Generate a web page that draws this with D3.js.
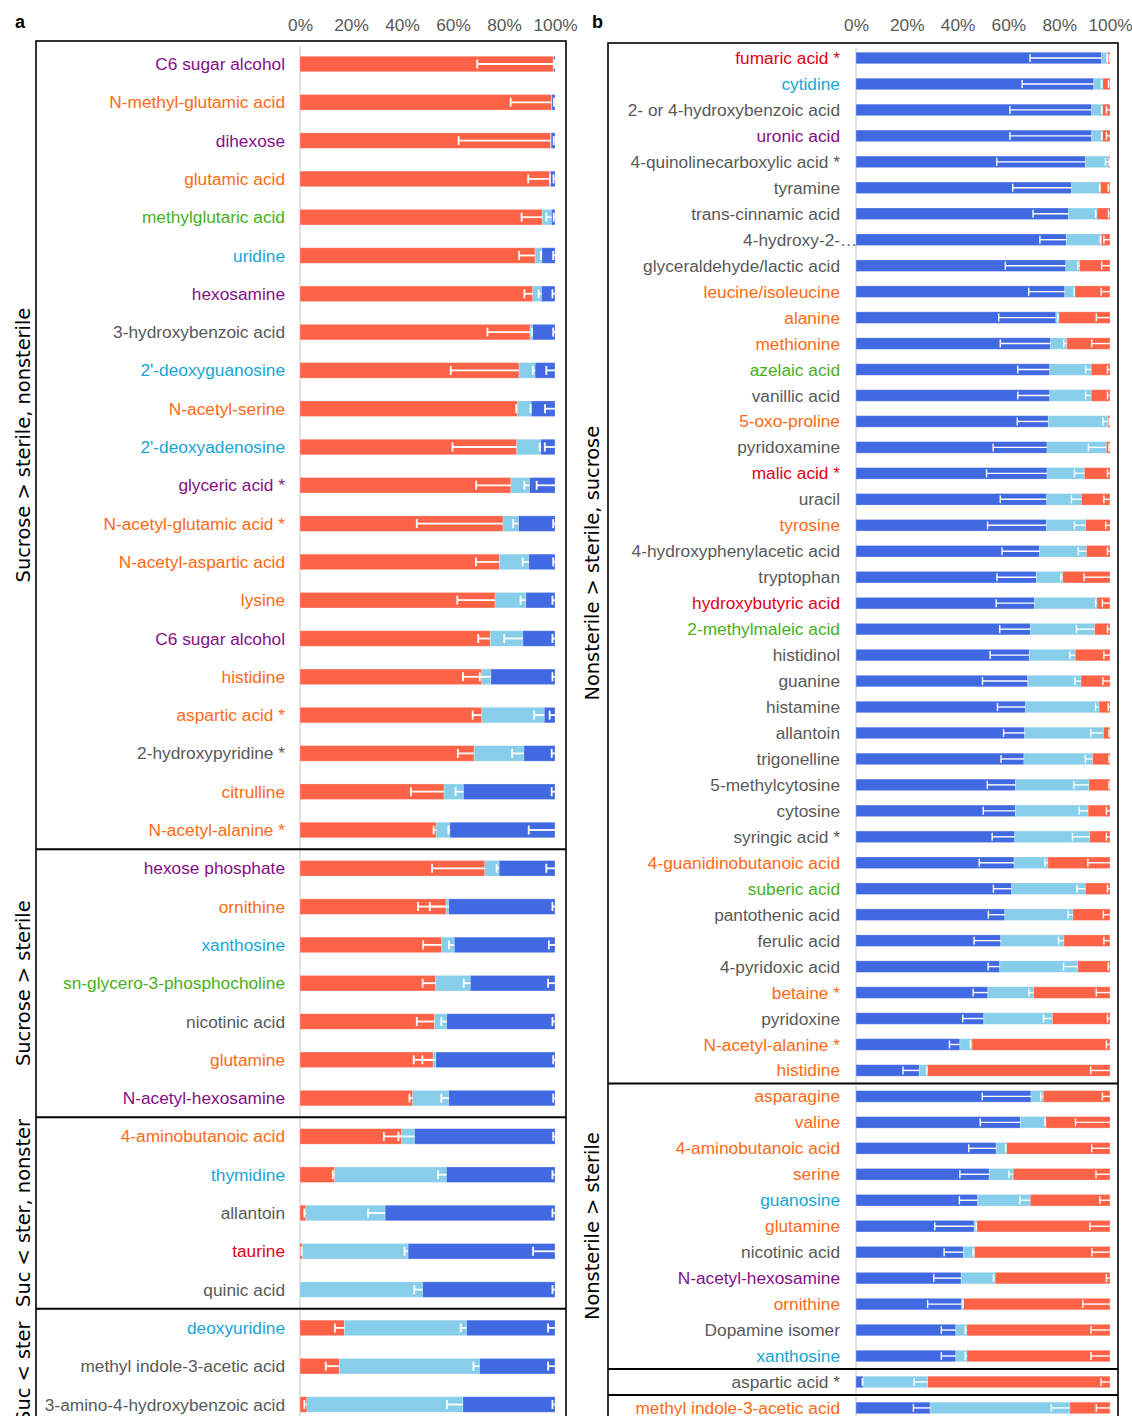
<!DOCTYPE html>
<html>
<head>
<meta charset="utf-8">
<script src="https://cdn.jsdelivr.net/npm/d3@7"></script>
<style>
  body { margin: 0; background: #fff; }
  svg { display: block; }
</style>
</head>
<body>
<svg id="chart" width="1132" height="1416"></svg>
<script>
// ---------- Panel a: metabolites higher with sucrose ----------
const aLabels = [
  "C6 sugar alcohol", "N-methyl-glutamic acid", "dihexose", "glutamic acid", "methylglutaric acid",
  "uridine", "hexosamine", "3-hydroxybenzoic acid", "2'-deoxyguanosine", "N-acetyl-serine",
  "2'-deoxyadenosine", "glyceric acid *", "N-acetyl-glutamic acid *", "N-acetyl-aspartic acid", "lysine",
  "C6 sugar alcohol", "histidine", "aspartic acid *", "2-hydroxypyridine *", "citrulline",
  "N-acetyl-alanine *",
  "hexose phosphate", "ornithine", "xanthosine", "sn-glycero-3-phosphocholine", "nicotinic acid",
  "glutamine", "N-acetyl-hexosamine",
  "4-aminobutanoic acid", "thymidine", "allantoin", "taurine", "quinic acid",
  "deoxyuridine", "methyl indole-3-acetic acid", "3-amino-4-hydroxybenzoic acid"
];
// compound class of each label: p sugar, o amino acid, g organic acid, c nucleoside, r TCA, k other
const aClasses = [
  "p","o","p","o","g","c","p","k","c","o","c","p","o","o","o","p","o","o","k","o","o",
  "p","o","c","g","k","o","p",
  "o","c","k","r","k",
  "c","k","k"
];
const aSucrose = [
  99.3, 98.7, 98.3, 97.9, 95.0, 92.2, 91.3, 90.2, 85.9, 85.4, 85.0, 82.7, 79.6, 78.3, 76.5,
  74.6, 71.3, 71.3, 68.3, 56.5, 53.4,
  72.5, 57.3, 55.6, 53.2, 52.8, 52.2, 44.2,
  39.9, 13.6, 2.3, 0.9, 0.0,
  17.4, 15.5, 2.7
];
const aSterile = [
  0.1, 0.1, 0.2, 0.3, 3.6, 2.7, 3.4, 1.0, 6.3, 5.3, 9.4, 7.3, 6.1, 11.4, 12.1,
  12.8, 3.6, 24.5, 19.5, 7.6, 5.4,
  5.6, 1.0, 4.9, 13.6, 4.7, 1.1, 14.1,
  5.0, 43.8, 31.1, 41.5, 48.1,
  47.9, 54.9, 61.2
];
const aNonsterile = [
  0.6, 1.2, 1.5, 1.8, 1.4, 5.1, 5.3, 8.8, 7.8, 9.3, 5.6, 10.0, 14.3, 10.3, 11.4,
  12.6, 25.1, 4.2, 12.2, 35.9, 41.2,
  21.9, 41.7, 39.5, 33.2, 42.5, 46.7, 41.7,
  55.1, 42.6, 66.6, 57.6, 51.9,
  34.7, 29.6, 36.1
];
const aSucroseErr = [
  29.8, 16.1, 36.1, 8.4, 8.1, 6.3, 3.3, 16.7, 26.8, 0.6, 25.2, 13.6, 33.8, 9.3, 14.8,
  4.7, 7.4, 3.6, 6.4, 13.0, 1.0,
  20.7, 11.0, 7.3, 5.1, 7.0, 7.6, 1.3,
  7.0, 0.7, 0.6, 0.3, 0,
  3.7, 5.4, 1.0
];
const aSterileErr = [
  0, 0, 0, 0.2, 2.0, 0.4, 1.1, 0.3, 0.9, 0.3, 0.4, 2.0, 2.1, 2.4, 2.1,
  7.3, 4.4, 4.0, 4.6, 3.1, 0.6,
  1.0, 7.4, 2.1, 2.6, 2.1, 5.3, 2.9,
  6.3, 3.3, 6.7, 1.4, 3.3,
  2.3, 2.4, 6.3
];
const aNonsterileErr = [
  0.3, 0.4, 0.5, 0.6, 0.5, 0.7, 1.0, 0.7, 3.4, 3.9, 4.0, 7.2, 0.7, 0.7, 1.0,
  1.0, 1.0, 2.1, 1.3, 1.3, 10.3,
  3.4, 1.0, 2.4, 2.7, 1.0, 0.7, 0.7,
  0.7, 1.0, 1.0, 8.6, 1.0,
  2.7, 2.7, 1.0
];
const aGroupNames = ["Sucrose > sterile, nonsterile", "Sucrose > sterile", "Suc < ster, nonster", "Suc < ster"];
const aGroupSizes = [21, 7, 5, 3];

// ---------- Panel b: metabolites higher in nonsterile soil ----------
const bLabels = [
  "fumaric acid *", "cytidine", "2- or 4-hydroxybenzoic acid", "uronic acid", "4-quinolinecarboxylic acid *",
  "tyramine", "trans-cinnamic acid", "4-hydroxy-2-…", "glyceraldehyde/lactic acid", "leucine/isoleucine",
  "alanine", "methionine", "azelaic acid", "vanillic acid", "5-oxo-proline",
  "pyridoxamine", "malic acid *", "uracil", "tyrosine", "4-hydroxyphenylacetic acid",
  "tryptophan", "hydroxybutyric acid", "2-methylmaleic acid", "histidinol", "guanine",
  "histamine", "allantoin", "trigonelline", "5-methylcytosine", "cytosine",
  "syringic acid *", "4-guanidinobutanoic acid", "suberic acid", "pantothenic acid", "ferulic acid",
  "4-pyridoxic acid", "betaine *", "pyridoxine", "N-acetyl-alanine *", "histidine",
  "asparagine", "valine", "4-aminobutanoic acid", "serine", "guanosine",
  "glutamine", "nicotinic acid", "N-acetyl-hexosamine", "ornithine", "Dopamine isomer",
  "xanthosine",
  "aspartic acid *",
  "methyl indole-3-acetic acid"
];
const bClasses = [
  "r","c","k","p","k","k","k","k","k","o",
  "o","o","g","k","o","k","r","k","o","k",
  "k","r","g","k","k","k","k","k","k","k",
  "k","o","g","k","k","k","o","k","o","o",
  "o","o","o","o","c","o","k","p","o","k",
  "c",
  "k",
  "o"
];
const bNonsterile = [
  96.7, 93.6, 92.8, 92.8, 90.3, 84.9, 83.7, 82.8, 82.6, 82.2,
  78.7, 76.6, 76.3, 76.3, 75.7, 75.2, 75.2, 75.1, 75.0, 72.3,
  71.0, 70.3, 68.6, 68.2, 67.6, 66.8, 66.4, 66.1, 62.8, 62.8,
  62.5, 62.2, 61.3, 58.6, 57.0, 56.6, 51.9, 50.3, 40.9, 24.9,
  68.9, 64.7, 55.2, 52.4, 47.9, 46.5, 42.3, 41.4, 41.6, 39.3,
  39.3,
  2.9,
  29.2
];
const bSterile = [
  2.4, 3.6, 4.3, 4.3, 9.1, 11.3, 11.2, 13.8, 5.4, 4.0,
  1.2, 6.4, 16.3, 16.3, 23.4, 23.4, 14.7, 13.6, 15.4, 18.4,
  10.4, 24.6, 25.3, 18.1, 21.0, 28.9, 31.0, 27.0, 28.9, 28.6,
  29.5, 13.4, 29.0, 26.8, 24.9, 30.8, 18.0, 27.0, 4.8, 3.2,
  4.8, 10.1, 4.1, 9.5, 20.7, 1.1, 4.4, 13.4, 0.7, 4.4,
  4.4,
  25.3,
  55.0
];
const bSucrose = [
  0.9, 2.8, 2.9, 2.9, 0.6, 3.8, 5.1, 3.4, 12.0, 13.8,
  20.1, 17.0, 7.4, 7.4, 0.9, 1.4, 10.1, 11.3, 9.6, 9.3,
  18.6, 5.1, 6.1, 13.7, 11.4, 4.3, 2.6, 6.9, 8.3, 8.6,
  8.0, 24.4, 9.7, 14.6, 18.1, 12.6, 30.1, 22.7, 54.3, 71.9,
  26.3, 25.2, 40.7, 38.1, 31.4, 52.4, 53.3, 45.2, 57.7, 56.3,
  56.3,
  71.8,
  15.8
];
const bNonsterileErr = [
  28.2, 28.2, 32.2, 32.2, 34.9, 23.2, 14.0, 10.4, 23.8, 14.2,
  22.5, 19.8, 12.6, 12.6, 12.2, 21.2, 23.8, 18.3, 23.2, 14.8,
  15.5, 15.1, 12.0, 15.4, 17.8, 11.1, 8.3, 9.0, 11.1, 12.7,
  8.9, 13.7, 7.2, 6.5, 10.5, 4.6, 5.8, 8.3, 4.1, 6.4,
  19.2, 15.8, 10.8, 11.5, 7.2, 15.5, 7.6, 10.8, 13.4, 5.7,
  5.7,
  0.4,
  6.6
];
const bSterileErr = [
  0.3, 0.6, 0.4, 0.4, 1.2, 0.3, 0.6, 0.4, 0.7, 0.3,
  0.5, 1.2, 2.2, 2.2, 1.9, 7.1, 3.9, 3.9, 4.4, 3.2,
  0.8, 0.6, 7.1, 2.1, 2.4, 1.4, 5.0, 2.8, 5.9, 3.5,
  6.8, 1.2, 3.3, 1.9, 2.2, 5.7, 1.9, 3.5, 0.7, 0.3,
  1.0, 0.4, 0.4, 1.7, 4.1, 0.3, 0.6, 0.7, 0.2, 0.7,
  0.7,
  5.3,
  7.3
];
const bSucroseErr = [
  0.3, 0.6, 1.4, 1.4, 0.2, 0.7, 0.6, 2.4, 3.3, 3.5,
  5.4, 7.2, 1.0, 1.0, 0.3, 0.4, 1.0, 2.4, 1.7, 1.0,
  10.2, 3.0, 1.0, 2.4, 2.8, 0.7, 0.4, 0.4, 0.4, 1.4,
  1.4, 8.7, 1.0, 2.6, 2.4, 0.7, 5.4, 1.0, 1.4, 7.6,
  3.0, 13.6, 7.2, 5.5, 4.0, 7.9, 7.1, 1.4, 10.7, 7.5,
  7.5,
  3.5,
  5.4
];
const bGroupNames = ["Nonsterile > sterile, sucrose", "Nonsterile > sterile", "", ""];
const bGroupSizes = [40, 11, 1, 1];

// shared percent axis
const tickValues = [0, 20, 40, 60, 80, 100];
const tickLabels = ["0%", "20%", "40%", "60%", "80%", "100%"];

const treatmentColors = { sucrose: "tomato", sterile: "skyblue", nonsterile: "royalblue" };
const classColors = { p: "#840F86", o: "#FF6A14", g: "#48B01C", c: "#17A6D8", r: "#E2001A", k: "#595959" };

const LABEL_FONT = "'Liberation Sans', Arial, sans-serif";
const GROUP_FONT = "'DejaVu Sans', Verdana, sans-serif";

const svg = d3.select("#chart");

function drawPanel(p) {
  const n = p.labels.length;
  const x = d3.scaleLinear().domain([0, 100]).range([p.x0, p.x1]);
  const y = d3.scalePoint().domain(d3.range(n)).range([p.firstRow, p.firstRow + (n - 1) * p.step]);
  const g = svg.append("g");

  // panel letter
  g.append("text")
    .attr("x", p.letterX).attr("y", 28)
    .attr("font-family", LABEL_FONT).attr("font-size", 18).attr("font-weight", "bold")
    .attr("fill", "#000")
    .text(p.letter);

  // percent axis across the top
  const axis = d3.axisTop(x)
    .tickValues(tickValues)
    .tickFormat((d, i) => tickLabels[i])
    .tickSize(0).tickPadding(0);
  const ax = g.append("g").attr("transform", "translate(0,30.5)").call(axis);
  ax.select(".domain").remove();
  ax.selectAll("text")
    .attr("font-family", LABEL_FONT).attr("font-size", 17.3).attr("fill", "#595959");

  // section extents
  const sections = [];
  let start = 0;
  p.groupSizes.forEach((size, k) => {
    const end = start + size - 1;
    const top = k === 0 ? p.boxTop : y(start) - p.step / 2;
    const bottom = y(end) + p.step / 2 + (k === p.groupSizes.length - 1 ? 12 : 0);
    sections.push({ name: p.groupNames[k], top, bottom });
    start += size;
  });
  const boxBottom = sections[sections.length - 1].bottom;

  // zero reference line
  g.append("line")
    .attr("x1", x(0)).attr("x2", x(0))
    .attr("y1", p.boxTop + 5).attr("y2", boxBottom)
    .attr("stroke", "#D9D9D9").attr("stroke-width", 1.5);

  // stacked bars
  const rows = d3.range(n).map(i => {
    let cum = 0;
    return p.series.map(s => {
      const seg = { i, x0: cum, x1: cum + s.values[i], err: s.errs[i], color: s.color };
      cum += s.values[i];
      return seg;
    });
  });
  const segs = rows.flat();

  g.append("g").selectAll("rect").data(segs.filter(d => d.x1 > d.x0)).join("rect")
    .attr("x", d => x(d.x0))
    .attr("width", d => x(d.x1) - x(d.x0))
    .attr("y", d => y(d.i) - p.barH / 2)
    .attr("height", p.barH)
    .attr("fill", d => d.color)
    .attr("stroke", "#fff").attr("stroke-opacity", 0.3).attr("stroke-width", 0.8);

  // minus-direction error bars with a cap
  const errs = segs.filter(d => d.err > 0 && d.x1 > d.x0);
  const eg = g.append("g").attr("stroke", "#fff").attr("stroke-width", p.errW);
  eg.selectAll("line.err").data(errs).join("line").attr("class", "err")
    .attr("x1", d => x(d.x1 - d.err)).attr("x2", d => x(d.x1))
    .attr("y1", d => y(d.i)).attr("y2", d => y(d.i));
  eg.selectAll("line.cap").data(errs).join("line").attr("class", "cap")
    .attr("x1", d => x(d.x1 - d.err)).attr("x2", d => x(d.x1 - d.err))
    .attr("y1", d => y(d.i) - p.capH / 2).attr("y2", d => y(d.i) + p.capH / 2);

  // metabolite names
  g.append("g").selectAll("text").data(p.labels).join("text")
    .attr("x", p.labelX)
    .attr("y", (d, i) => y(i))
    .attr("dy", "0.35em")
    .attr("dx", d => d.endsWith("…") ? "1em" : null)
    .attr("text-anchor", "end")
    .attr("font-family", LABEL_FONT).attr("font-size", 17.3)
    .attr("fill", (d, i) => classColors[p.classes[i]])
    .text(d => d);

  // frame and section dividers
  g.append("rect")
    .attr("x", p.boxLeft).attr("y", p.boxTop)
    .attr("width", p.boxRight - p.boxLeft).attr("height", boxBottom - p.boxTop)
    .attr("fill", "none").attr("stroke", "#000").attr("stroke-width", 1.6);
  sections.slice(1).forEach(s => {
    g.append("line")
      .attr("x1", p.boxLeft).attr("x2", p.boxRight)
      .attr("y1", s.top).attr("y2", s.top)
      .attr("stroke", "#000").attr("stroke-width", 2);
  });

  // section titles
  sections.filter(s => s.name).forEach(s => {
    g.append("text")
      .attr("transform", `translate(${p.groupX},${(s.top + s.bottom) / 2}) rotate(-90)`)
      .attr("text-anchor", "middle")
      .attr("font-family", GROUP_FONT).attr("font-size", 19.4)
      .attr("fill", "#000")
      .text(s.name);
  });
}

drawPanel({
  letter: "a", letterX: 15,
  labels: aLabels, classes: aClasses,
  series: [
    { values: aSucrose, errs: aSucroseErr, color: treatmentColors.sucrose },
    { values: aSterile, errs: aSterileErr, color: treatmentColors.sterile },
    { values: aNonsterile, errs: aNonsterileErr, color: treatmentColors.nonsterile }
  ],
  groupNames: aGroupNames, groupSizes: aGroupSizes,
  x0: 300, x1: 555, firstRow: 64, step: 38.3, barH: 15.5, capH: 9, errW: 1.8,
  boxLeft: 36, boxRight: 566, boxTop: 41, labelX: 285, groupX: 30
});

drawPanel({
  letter: "b", letterX: 592,
  labels: bLabels, classes: bClasses,
  series: [
    { values: bNonsterile, errs: bNonsterileErr, color: treatmentColors.nonsterile },
    { values: bSterile, errs: bSterileErr, color: treatmentColors.sterile },
    { values: bSucrose, errs: bSucroseErr, color: treatmentColors.sucrose }
  ],
  groupNames: bGroupNames, groupSizes: bGroupSizes,
  x0: 856, x1: 1110, firstRow: 58, step: 25.96, barH: 11.5, capH: 8, errW: 1.4,
  boxLeft: 608, boxRight: 1118, boxTop: 43, labelX: 840, groupX: 599
});
</script>
</body>
</html>
